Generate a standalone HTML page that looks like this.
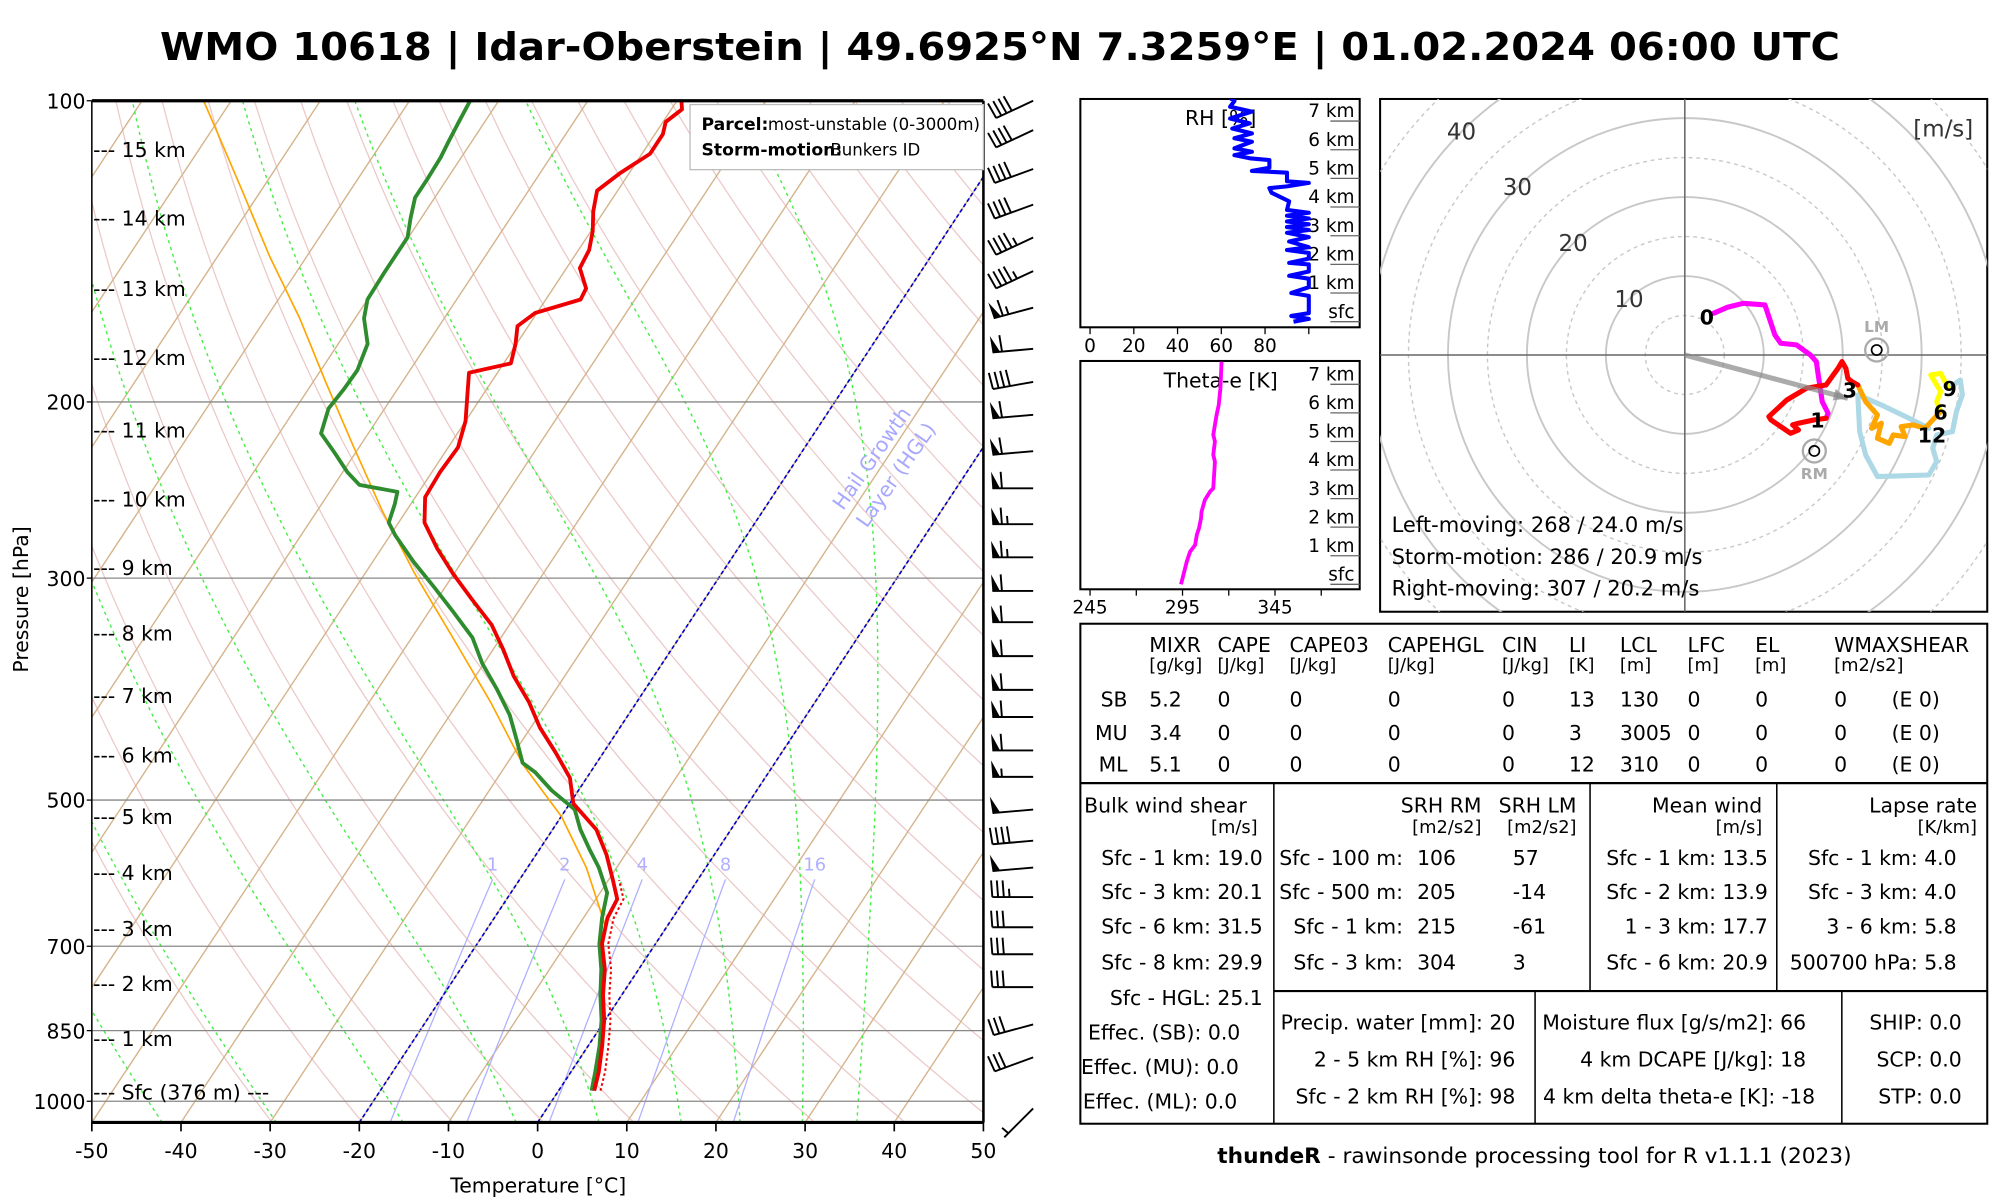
<!DOCTYPE html>
<html><head><meta charset="utf-8"><title>WMO 10618 Idar-Oberstein sounding</title>
<style>
html,body{margin:0;padding:0;background:#fff;}
svg{display:block;font-family:"DejaVu Sans","Liberation Sans",sans-serif;}
</style></head>
<body>
<svg id="root" xmlns="http://www.w3.org/2000/svg" width="2000" height="1200" viewBox="0 0 1568 940.8">
<defs>
<clipPath id="skewClip"><rect x="72" y="79" width="699" height="801"/></clipPath>
<clipPath id="hodoClip"><rect x="1082" y="77.6" width="476" height="402"/></clipPath>
<clipPath id="rhClip"><rect x="847" y="77.6" width="219" height="179"/></clipPath>
<clipPath id="teClip"><rect x="847" y="283" width="219" height="179"/></clipPath>
</defs>
<rect x="0" y="0" width="1568" height="940.8" fill="#fff"/>
<text x="784" y="47" text-anchor="middle" font-size="30" font-weight="bold" textLength="1317" lengthAdjust="spacingAndGlyphs">WMO 10618 | Idar-Oberstein | 49.6925°N 7.3259°E | 01.02.2024 06:00 UTC</text>

<g id="skewBg" clip-path="url(#skewClip)"></g>
<g id="skewData" clip-path="url(#skewClip)"></g>
<g id="skewAxes"></g>
<g id="barbs"></g>

<text x="683" y="365" font-size="16" fill="#a8a8ff" text-anchor="middle" transform="rotate(-55 683 359)">Hail Growth</text>
<text x="702" y="378" font-size="16" fill="#a8a8ff" text-anchor="middle" transform="rotate(-55 702 372)">Layer (HGL)</text>

<g>
<rect x="541" y="82" width="230" height="51" fill="#fff" stroke="#bbb" stroke-width="1"/>
<text x="550" y="102" font-size="13.5" font-weight="bold">Parcel:</text>
<text x="602" y="102" font-size="13">most-unstable (0-3000m)</text>
<text x="550" y="122" font-size="13.5" font-weight="bold">Storm-motion:</text>
<text x="651" y="122" font-size="13">Bunkers ID</text>
</g>

<text x="422" y="935" font-size="16" text-anchor="middle">Temperature [°C]</text>
<text x="22" y="470" font-size="16" text-anchor="middle" transform="rotate(-90 22 470)">Pressure [hPa]</text>

<g font-size="16">
<text x="73" y="123">--- 15 km</text>
<text x="73" y="177">--- 14 km</text>
<text x="73" y="232">--- 13 km</text>
<text x="73" y="286">--- 12 km</text>
<text x="73" y="343">--- 11 km</text>
<text x="73" y="397">--- 10 km</text>
<text x="73" y="451">--- 9 km</text>
<text x="73" y="502">--- 8 km</text>
<text x="73" y="551">--- 7 km</text>
<text x="73" y="598">--- 6 km</text>
<text x="73" y="646">--- 5 km</text>
<text x="73" y="690">--- 4 km</text>
<text x="73" y="734">--- 3 km</text>
<text x="73" y="777">--- 2 km</text>
<text x="73" y="820">--- 1 km</text>
<text x="73" y="862">--- Sfc (376 m) ---</text>
</g>

<g id="rhPanel">
<rect x="847" y="77.6" width="219" height="179" fill="none" stroke="#000" stroke-width="1.6"/>
<text x="957" y="98" font-size="16" text-anchor="middle">RH [%]</text>
</g>
<g id="tePanel">
<rect x="847" y="283" width="219" height="179" fill="none" stroke="#000" stroke-width="1.6"/>
<text x="957" y="304" font-size="16" text-anchor="middle">Theta-e [K]</text>
</g>

<g id="hodo">
<rect x="1082" y="77.6" width="476" height="402" fill="none" stroke="#000" stroke-width="1.6"/>
</g>
<g font-size="16.5">
<text x="1547" y="107" font-size="18" fill="#333" text-anchor="end">[m/s]</text>
<text x="1091" y="417">Left-moving: 268 / 24.0 m/s</text>
<text x="1091" y="442">Storm-motion: 286 / 20.9 m/s</text>
<text x="1091" y="467">Right-moving: 307 / 20.2 m/s</text>
</g>

<g font-size="16">
<rect x="847" y="489" width="711" height="392" fill="none" stroke="#000" stroke-width="1.6"/>
<line x1="847" y1="614" x2="1558" y2="614" stroke="#000" stroke-width="1.8"/>
<line x1="998.7" y1="614" x2="998.7" y2="881" stroke="#000" stroke-width="1.2"/>
<line x1="1246.6" y1="614" x2="1246.6" y2="777" stroke="#000" stroke-width="1.2"/>
<line x1="1393" y1="614" x2="1393" y2="777" stroke="#000" stroke-width="1.2"/>
<line x1="998.7" y1="777" x2="1558" y2="777" stroke="#000" stroke-width="1.6"/>
<line x1="1203.5" y1="777" x2="1203.5" y2="881" stroke="#000" stroke-width="1.2"/>
<line x1="1444" y1="777" x2="1444" y2="881" stroke="#000" stroke-width="1.2"/>

<g>
<text x="901" y="511">MIXR</text><text x="954.5" y="511">CAPE</text><text x="1011" y="511">CAPE03</text><text x="1088" y="511">CAPEHGL</text><text x="1177.6" y="511">CIN</text><text x="1230" y="511">LI</text><text x="1270" y="511">LCL</text><text x="1323" y="511">LFC</text><text x="1376" y="511">EL</text><text x="1438" y="511">WMAXSHEAR</text>
</g>
<g font-size="14">
<text x="901" y="526">[g/kg]</text><text x="954.5" y="526">[J/kg]</text><text x="1011" y="526">[J/kg]</text><text x="1088" y="526">[J/kg]</text><text x="1177.6" y="526">[J/kg]</text><text x="1230" y="526">[K]</text><text x="1270" y="526">[m]</text><text x="1323" y="526">[m]</text><text x="1376" y="526">[m]</text><text x="1438" y="526">[m2/s2]</text>
</g>
<g>
<text x="884" y="554" text-anchor="end">SB</text><text x="901" y="554">5.2</text><text x="954.5" y="554">0</text><text x="1011" y="554">0</text><text x="1088" y="554">0</text><text x="1177.6" y="554">0</text><text x="1230" y="554">13</text><text x="1270" y="554">130</text><text x="1323" y="554">0</text><text x="1376" y="554">0</text><text x="1438" y="554">0</text><text x="1483" y="554">(E 0)</text>
</g>
<g>
<text x="884" y="580" text-anchor="end">MU</text><text x="901" y="580">3.4</text><text x="954.5" y="580">0</text><text x="1011" y="580">0</text><text x="1088" y="580">0</text><text x="1177.6" y="580">0</text><text x="1230" y="580">3</text><text x="1270" y="580">3005</text><text x="1323" y="580">0</text><text x="1376" y="580">0</text><text x="1438" y="580">0</text><text x="1483" y="580">(E 0)</text>
</g>
<g>
<text x="884" y="605" text-anchor="end">ML</text><text x="901" y="605">5.1</text><text x="954.5" y="605">0</text><text x="1011" y="605">0</text><text x="1088" y="605">0</text><text x="1177.6" y="605">0</text><text x="1230" y="605">12</text><text x="1270" y="605">310</text><text x="1323" y="605">0</text><text x="1376" y="605">0</text><text x="1438" y="605">0</text><text x="1483" y="605">(E 0)</text>
</g>

<g>
<text x="850" y="637">Bulk wind shear</text>
<text x="986" y="653" text-anchor="end" font-size="14">[m/s]</text>
<text x="990" y="678" text-anchor="end">Sfc - 1 km: 19.0</text>
<text x="990" y="705" text-anchor="end">Sfc - 3 km: 20.1</text>
<text x="990" y="732" text-anchor="end">Sfc - 6 km: 31.5</text>
<text x="990" y="760" text-anchor="end">Sfc - 8 km: 29.9</text>
<text x="990" y="788" text-anchor="end">Sfc - HGL: 25.1</text>
<text x="853" y="815">Effec. (SB): 0.0</text>
<text x="847.5" y="842">Effec. (MU): 0.0</text>
<text x="849" y="869">Effec. (ML): 0.0</text>
</g>
<g>
<text x="1161.5" y="637" text-anchor="end">SRH RM</text>
<text x="1236" y="637" text-anchor="end">SRH LM</text>
<text x="1161.5" y="653" text-anchor="end" font-size="14">[m2/s2]</text>
<text x="1236" y="653" text-anchor="end" font-size="14">[m2/s2]</text>
<text x="1100" y="678" text-anchor="end">Sfc - 100 m:</text><text x="1111" y="678">106</text><text x="1186" y="678">57</text>
<text x="1100" y="705" text-anchor="end">Sfc - 500 m:</text><text x="1111" y="705">205</text><text x="1186" y="705">-14</text>
<text x="1100" y="732" text-anchor="end">Sfc - 1 km:</text><text x="1111" y="732">215</text><text x="1186" y="732">-61</text>
<text x="1100" y="760" text-anchor="end">Sfc - 3 km:</text><text x="1111" y="760">304</text><text x="1186" y="760">3</text>
</g>
<g>
<text x="1381.6" y="637" text-anchor="end">Mean wind</text>
<text x="1381.6" y="653" text-anchor="end" font-size="14">[m/s]</text>
<text x="1386" y="678" text-anchor="end">Sfc - 1 km: 13.5</text>
<text x="1386" y="705" text-anchor="end">Sfc - 2 km: 13.9</text>
<text x="1386" y="732" text-anchor="end">1 - 3 km: 17.7</text>
<text x="1386" y="760" text-anchor="end">Sfc - 6 km: 20.9</text>
</g>
<g>
<text x="1550" y="637" text-anchor="end">Lapse rate</text>
<text x="1550" y="653" text-anchor="end" font-size="14">[K/km]</text>
<text x="1534" y="678" text-anchor="end">Sfc - 1 km: 4.0</text>
<text x="1534" y="705" text-anchor="end">Sfc - 3 km: 4.0</text>
<text x="1534" y="732" text-anchor="end">3 - 6 km: 5.8</text>
<text x="1534" y="760" text-anchor="end">500700 hPa: 5.8</text>
</g>
<g>
<text x="1188" y="807" text-anchor="end">Precip. water [mm]: 20</text>
<text x="1188" y="836" text-anchor="end">2 - 5 km RH [%]: 96</text>
<text x="1188" y="865" text-anchor="end">Sfc - 2 km RH [%]: 98</text>
<text x="1416" y="807" text-anchor="end">Moisture flux [g/s/m2]: 66</text>
<text x="1416" y="836" text-anchor="end">4 km DCAPE [J/kg]: 18</text>
<text x="1423" y="865" text-anchor="end">4 km delta theta-e [K]: -18</text>
</g>
<g>
<text x="1538" y="807" text-anchor="end">SHIP: 0.0</text>
<text x="1538" y="836" text-anchor="end">SCP: 0.0</text>
<text x="1538" y="865" text-anchor="end">STP: 0.0</text>
</g>
</g>
<text x="1203" y="912" font-size="17" text-anchor="middle"><tspan font-weight="bold">thundeR</tspan> - rawinsonde processing tool for R v1.1.1 (2023)</text>
</svg>

<script>
// ---------------- DATA ----------------
const tempP = [976,934,881,830,783,738,696,656,628,601,567,535,504,475,448,423,399,376,354,334,315,297,280,264,249,235,222,209,197,187,183,175,168,163,158,154,147,141,135,129,123,118,113,108,105,102,100.3];
const tempT = [4.0,3.1,1.6,-0.1,-2.1,-3.8,-6.0,-7.3,-7.6,-9.5,-12.1,-15.1,-19.6,-21.9,-25.4,-29.0,-32.1,-35.7,-38.8,-42.0,-46.1,-50.1,-53.8,-57.1,-58.9,-59.1,-58.9,-60.0,-61.7,-63.2,-59.2,-60.1,-61.2,-60.2,-56.1,-56.3,-58.5,-58.8,-59.8,-61.2,-62.3,-61.0,-59.1,-59.1,-59.7,-58.8,-59.4];
const dewP = [976,934,881,830,783,738,696,656,619,584,559,535,511,489,469,459,435,411,387,365,344,324,306,289,272,264,253,246,242,235,225,215,203,194,186,175,165,158,149,143,137,131,125,120,114,110,105,100];
const dewT = [3.7,2.7,1.3,-0.4,-2.4,-4.2,-6.3,-7.9,-9.2,-12.0,-14.5,-16.9,-19.0,-23.0,-26.2,-28.3,-30.7,-33.3,-36.7,-40.2,-43.2,-47.3,-51.3,-55.4,-59.4,-61.1,-61.8,-62.4,-67.2,-69.5,-72.3,-75.3,-76.3,-76.0,-75.9,-76.7,-79.0,-80.0,-80.1,-80.1,-80.1,-81.2,-82.2,-82.2,-82.3,-82.6,-82.9,-83.2];
const parcelP = [670,584,519,461,399,344,297,257,222,191,165,143,123,106,100];
const parcelT = [-6.8,-13.4,-20.0,-28.1,-36.4,-45.4,-54.4,-62.7,-70.6,-78.6,-86.2,-94.2,-102.1,-110.0,-113.1];
const virtOffset = 0.7;
const pressureTicks = [100,200,300,500,700,850,1000];
const tempTicks = [-50,-40,-30,-20,-10,0,10,20,30,40,50];
const mixRatios = [1,2,4,8,16];
const hglIsotherms = [-20,0];

const barbP = [100,107,117,127,137,148,161,177,191,206,224,244,265,286,309,332,359,388,413,446,474,511,549,584,625,670,713,769,838,904,1017];
const barbDir = [245,245,250,250,245,245,255,265,260,265,265,270,270,270,270,270,270,270,270,270,270,265,265,265,270,270,270,270,255,250,225];
const barbSpd = [40,40,40,40,45,45,65,60,40,60,60,60,65,65,60,60,60,60,60,60,55,50,40,50,35,30,30,30,30,30,5];

const rhH = [0,0.1,0.2,0.3,0.9,1.0,1.2,1.5,1.6,1.75,2.0,2.05,2.2,2.4,2.5,2.6,2.8,2.95,3.1,3.2,3.3,3.4,3.5,3.6,3.7,3.8,3.9,4.2,4.5,4.66,4.72,4.84,4.9,5.2,5.26,5.37,5.64,5.7,5.81,5.93,6.05,6.28,6.4,6.57,6.74,6.92,7.09,7.33,7.5,7.7,7.8];
const rhV = [93,100,92,100,100,92,100,100,91,100,100,91,100,100,90,100,91,100,90,100,90,100,90,100,90,100,90,91,83,82,90,100,90,90,74,82,82,73,66,74,66,74,66,74,65,73,64,74,64,66,64];
const rhTicks = [0,20,40,60,80,100];
const teH = [0,0.33,0.79,1.14,1.38,1.73,1.96,2.31,2.54,2.95,3.24,3.36,4.29,4.53,5.0,5.23,5.58,5.93,6.28,6.86,7.79];
const teV = [294.2,295.5,297.3,299.1,301.8,302.7,303.9,305,305.3,307.1,309.8,311.6,312.5,311.6,312.5,311.6,312.5,313.4,314.6,315.5,316.1];
const teTicks = [245,270,295,320,345,370];
const panelKm = ["sfc","1 km","2 km","3 km","4 km","5 km","6 km","7 km"];

const h01U = [3.65,5.4,7.4,10.15,11.4,12.15,14.15,15.9,16.65,16.9,17.15,17.4,18.15,17.9];
const h01V = [5.28,6.04,6.54,6.33,2.53,1.48,1.27,0,-0.84,-2.53,-4.22,-5.91,-7.39,-8.02];
const h13U = [17.9,16.4,14.4,13.65,14.4,13.4,10.9,10.65,12.9,15.4,17.9,18.65,19.4,19.9,20.4,20.65,21.15,21.9];
const h13V = [-8.02,-8.23,-8.65,-8.86,-9.5,-9.92,-8.23,-7.81,-5.7,-4.22,-3.8,-2.74,-1.69,-0.84,-1.69,-2.95,-3.38,-3.8];
const h36U = [21.9,22.9,24.4,23.65,24.9,24.4,25.9,26.4,27.9,27.4,28.9,30.4,31.4,32.4];
const h36V = [-3.8,-5.91,-7.6,-9.29,-8.65,-10.55,-11.19,-10.13,-10.34,-9.08,-8.86,-9.29,-8.23,-7.18];
const h69U = [32.4,31.9,32.4,31.15,32.4,33.4];
const h69V = [-7.18,-5.91,-4.64,-2.53,-2.32,-4.22];
const h912U = [33.4,34.9,35.15,34.4,33.9,31.9,31.4,31.9,30.9,24.4,22.9,22.15,21.9,24.9,28.4,30.9];
const h912V = [-4.22,-3.17,-5.06,-7.18,-9.71,-10.13,-11.82,-13.5,-15.2,-15.4,-12.66,-9.71,-5.06,-6.33,-8.02,-9.29];
const hodoLabelText = ["0","1","3","6","9","12"];
const hodoLabelU = [2.8,16.8,20.9,32.4,33.55,31.3];
const hodoLabelV = [4.85,-8.2,-4.43,-7.18,-4.22,-10.13];
const stormU = 20.65, stormV = -5.49;
const lmU = 24.3, lmV = 0.63, rmU = 16.4, rmV = -12.16;
const hodoRings = [5,10,15,20,25,30,35,40,45];
const hodoRingLabels = [10,20,30,40];

// ---------------- SCALES ----------------
const NS = "http://www.w3.org/2000/svg";
function mk(tag, parent){ const el = document.createElementNS(NS, tag); parent.appendChild(el); return el; }
function Y(p){ return 79 + Math.log(p/100)/Math.log(10.5)*801; }
function X(T,p){ return 72 + (T+50)*6.99 + (880 - Y(p))*0.66; }
function XG(T,p){ return X(T,p); }
function ptsStr(a){ return a.map(q=>q[0].toFixed(1)+","+q[1].toFixed(1)).join(" "); }

const bg = document.getElementById("skewBg");
const dat = document.getElementById("skewData");
const ax = document.getElementById("skewAxes");

for (let th = 240; th <= 520; th += 10) {
  const pts = [];
  for (let p = 1050; p >= 100; p -= 10) pts.push([XG(th*Math.pow(p/1000,0.2857)-273.15, p), Y(p)]);
  const el = mk("polyline", bg);
  
  
  el.setAttribute("points", ptsStr(pts)); el.setAttribute("fill","none");
  el.setAttribute("stroke","#ebc9c9"); el.setAttribute("stroke-width","1");
}
for (let T = -180; T <= 50; T += 10) {
  const el = mk("line", bg);
  
  
  el.setAttribute("x1", X(T,1050)); el.setAttribute("y1", Y(1050));
  el.setAttribute("x2", X(T,100)); el.setAttribute("y2", Y(100));
  el.setAttribute("stroke","#d4b48c"); el.setAttribute("stroke-width","1.1");
}
const moistStarts = [-42.1,-29.3,-15.1,-2.4,6.9,16.1,22.7,29.7,35.8];
moistStarts.forEach(T0 => {
  let T = T0 + 273.15, p = 1050; const pts = [[XG(T0,p),Y(p)]];
  while (p > 100) {
    const Tc = T - 273.15;
    const es = 6.112*Math.exp(17.67*Tc/(Tc+243.5));
    const rs = 0.622*es/Math.max(p-es,1);
    const d = (287*T + 2.5e6*rs)/(1005 + 2.5e6*2.5e6*rs*0.622/(287*T*T));
    T += d*(-5/p); p -= 5;
    pts.push([XG(T-273.15,p), Y(p)]);
  }
  const el = mk("polyline", bg);
  
  
  el.setAttribute("points", ptsStr(pts)); el.setAttribute("fill","none");
  el.setAttribute("stroke","#44ee44"); el.setAttribute("stroke-width","1.1"); el.setAttribute("stroke-dasharray","2.5,3");
});
mixRatios.forEach(w => {
  const pts = [];
  for (let p = 1050; p >= 600; p -= 10) {
    const e = w*p/(622+w), l = Math.log(e/6.112);
    pts.push([XG(243.5*l/(17.67-l), p), Y(p)]);
  }
  const el = mk("polyline", bg);
  
  
  el.setAttribute("points", ptsStr(pts)); el.setAttribute("fill","none");
  el.setAttribute("stroke","#b0b0ff"); el.setAttribute("stroke-width","1");
  const last = pts[pts.length-1];
  const t = mk("text", bg);
  
  
  t.setAttribute("x", last[0]); t.setAttribute("y", last[1]-7);
  t.setAttribute("text-anchor","middle"); t.setAttribute("font-size","14"); t.setAttribute("fill","#b0b0ff");
  t.textContent = String(w);
});
hglIsotherms.forEach(T => {
  const el = mk("line", bg);
  
  
  el.setAttribute("x1", X(T,1050)); el.setAttribute("y1", Y(1050));
  el.setAttribute("x2", X(T,100)); el.setAttribute("y2", Y(100));
  el.setAttribute("stroke","#0000cc"); el.setAttribute("stroke-width","1.3"); el.setAttribute("stroke-dasharray","3,2");
});
pressureTicks.forEach(p => {
  const el = mk("line", bg);
  
  
  el.setAttribute("x1",72); el.setAttribute("x2",771); el.setAttribute("y1",Y(p)); el.setAttribute("y2",Y(p));
  el.setAttribute("stroke","#888"); el.setAttribute("stroke-width","1");
});

function profile(P, T, color, width, name, dash, off){
  const pts = P.map((p,i)=>[X(T[i]+(off||0),p), Y(p)]);
  const el = mk("polyline", dat);
  
  
  el.setAttribute("points", ptsStr(pts)); el.setAttribute("fill","none");
  el.setAttribute("stroke", color); el.setAttribute("stroke-width", width);
  el.setAttribute("stroke-linejoin","round");
  if (dash) el.setAttribute("stroke-dasharray", dash);
}
profile(parcelP, parcelT, "#ffa500", 1.3, "parcel-path");
const vP = tempP.filter(p=>p>=600), vT = tempT.slice(0, vP.length);
profile(vP, vT, "#ee0000", 1.6, "virtual-temperature-line", "2,2", virtOffset);
profile(dewP, dewT, "#2e8b2e", 3, "dewpoint-line");
profile(tempP, tempT, "#ee0000", 3, "temperature-line");

[[72,79,771,79,2.5,'plot-top-border'],[72,880,771,880,2.5,'x-axis-line'],[72,79,72,880,1.2,'y-axis-line'],[771,79,771,880,2,'plot-right-border']].forEach(a=>{
  const el = mk("line", ax);
  
  
  el.setAttribute("x1",a[0]); el.setAttribute("y1",a[1]); el.setAttribute("x2",a[2]); el.setAttribute("y2",a[3]);
  el.setAttribute("stroke","#000"); el.setAttribute("stroke-width",a[4]);
});
pressureTicks.forEach(p => {
  const t = mk("text", ax);
  
  
  t.setAttribute("x",67); t.setAttribute("y",Y(p)+6); t.setAttribute("text-anchor","end"); t.setAttribute("font-size","16");
  t.textContent = String(p);
  const k = mk("line", ax);
  
  
  k.setAttribute("x1",68); k.setAttribute("x2",72); k.setAttribute("y1",Y(p)); k.setAttribute("y2",Y(p)); k.setAttribute("stroke","#000");
});
tempTicks.forEach(T => {
  const x = 72 + (T+50)*6.99;
  const k = mk("line", ax);
  
  
  k.setAttribute("x1",x); k.setAttribute("x2",x); k.setAttribute("y1",880); k.setAttribute("y2",887); k.setAttribute("stroke","#000"); k.setAttribute("stroke-width","1.3");
  const t = mk("text", ax);
  
  
  t.setAttribute("x",x); t.setAttribute("y",908); t.setAttribute("text-anchor","middle"); t.setAttribute("font-size","16");
  t.textContent = String(T);
});

const bg2 = document.getElementById("barbs");
barbP.forEach((p,i) => {
  const y = (p > 1000) ? 869 : Y(p);
  const sx = 810, L = 32;
  const d = barbDir[i]*Math.PI/180;
  const vx = Math.sin(d), vy = -Math.cos(d);
  const px = -vy, py = vx;
  const tx = sx + vx*L, ty = y + vy*L;
  const g = mk("g", bg2);
  
  
  const st = mk("line", g);
  
  
  st.setAttribute("x1",sx); st.setAttribute("y1",y); st.setAttribute("x2",tx); st.setAttribute("y2",ty);
  st.setAttribute("stroke","#000"); st.setAttribute("stroke-width","1.5");
  let s = barbSpd[i], pos = 0;
  while (s >= 50) {
    const a = [tx - vx*pos, ty - vy*pos];
    const b = [a[0] + px*13 + vx*1, a[1] + py*13 + vy*1];
    const c = [tx - vx*(pos+6), ty - vy*(pos+6)];
    const pn = mk("polygon", g);
    
    
    pn.setAttribute("points", ptsStr([a,b,c])); pn.setAttribute("fill","#000");
    pos += 7.5; s -= 50;
  }
  while (s >= 10) {
    const a = [tx - vx*pos, ty - vy*pos];
    const f = mk("line", g);
    
    
    f.setAttribute("x1",a[0]); f.setAttribute("y1",a[1]);
    f.setAttribute("x2",a[0]+px*13+vx*1); f.setAttribute("y2",a[1]+py*13+vy*1);
    f.setAttribute("stroke","#000"); f.setAttribute("stroke-width","1.5");
    pos += 4.5; s -= 10;
  }
  if (s >= 5) {
    if (pos === 0) pos = 4.5;
    const a = [tx - vx*pos, ty - vy*pos];
    const f = mk("line", g);
    
    
    f.setAttribute("x1",a[0]); f.setAttribute("y1",a[1]);
    f.setAttribute("x2",a[0]+px*6.5+vx*0.5); f.setAttribute("y2",a[1]+py*6.5+vy*0.5);
    f.setAttribute("stroke","#000"); f.setAttribute("stroke-width","1.5");
  }
});

const rhG = document.getElementById("rhPanel");
const rhX = v => 854.6 + v*1.715;
const rhY = h => 252.2 - h*22.47;
function panelHeights(g, yFn, name){
  panelKm.forEach((lab,k) => {
    const y = yFn(k);
    const ln = mk("line", g);
    
    
    ln.setAttribute("x1",1043); ln.setAttribute("x2",1066); ln.setAttribute("y1",y); ln.setAttribute("y2",y);
    ln.setAttribute("stroke","#666"); ln.setAttribute("stroke-width","1");
    const t = mk("text", g);
    
    
    t.setAttribute("x",1062); t.setAttribute("y",y-3); t.setAttribute("text-anchor","end"); t.setAttribute("font-size","14.5");
    t.textContent = lab;
  });
}
panelHeights(rhG, rhY, "rh");
rhTicks.forEach(v => {
  const k = mk("line", rhG);
  
  
  k.setAttribute("x1",rhX(v)); k.setAttribute("x2",rhX(v)); k.setAttribute("y1",256.6); k.setAttribute("y2",262); k.setAttribute("stroke","#000");
  if (v < 100) {
    const t = mk("text", rhG);
    
    
    t.setAttribute("x",rhX(v)); t.setAttribute("y",276); t.setAttribute("text-anchor","middle"); t.setAttribute("font-size","14.5");
    t.textContent = String(v);
  }
});
{
  const el = mk("polyline", rhG);
  
  
  el.setAttribute("clip-path","url(#rhClip)");
  el.setAttribute("points", ptsStr(rhH.map((h,i)=>[rhX(rhV[i]), rhY(h)])));
  el.setAttribute("fill","none"); el.setAttribute("stroke","#0000ff"); el.setAttribute("stroke-width","3.2"); el.setAttribute("stroke-linejoin","round");
}
const teG = document.getElementById("tePanel");
const teX = v => 854.6 + (v-245)*1.45;
const teY = h => 458.1 - h*22.4;
panelHeights(teG, teY, "theta-e");
teTicks.forEach(v => {
  const k = mk("line", teG);
  
  
  k.setAttribute("x1",teX(v)); k.setAttribute("x2",teX(v)); k.setAttribute("y1",462); k.setAttribute("y2",467); k.setAttribute("stroke","#000");
  if ((v-245) % 50 === 0) {
    const t = mk("text", teG);
    
    
    t.setAttribute("x",teX(v)); t.setAttribute("y",481); t.setAttribute("text-anchor","middle"); t.setAttribute("font-size","14.5");
    t.textContent = String(v);
  }
});
{
  const el = mk("polyline", teG);
  
  
  el.setAttribute("clip-path","url(#teClip)");
  el.setAttribute("points", ptsStr(teH.map((h,i)=>[teX(teV[i]), teY(h)])));
  el.setAttribute("fill","none"); el.setAttribute("stroke","#ff00ff"); el.setAttribute("stroke-width","3"); el.setAttribute("stroke-linejoin","round");
}

const hG = document.getElementById("hodo");
const hc = mk("g", hG);


hc.setAttribute("clip-path","url(#hodoClip)");
const CX = 1320.9, CY = 278.3, S = 6.19;
const hx = u => CX + u*S, hy = v => CY - v*S;
hodoRings.forEach(r => {
  const c = mk("circle", hc);
  
  
  c.setAttribute("cx",CX); c.setAttribute("cy",CY); c.setAttribute("r", r*S); c.setAttribute("fill","none");
  c.setAttribute("stroke","#c8c8c8"); c.setAttribute("stroke-width", r%10===0 ? "1.5" : "1.1");
  if (r%10 !== 0) c.setAttribute("stroke-dasharray","3,3");
});
[[1082,CY,1558,CY],[CX,77.6,CX,479.6]].forEach(a=>{
  const l = mk("line", hc);
  
  
  l.setAttribute("x1",a[0]); l.setAttribute("y1",a[1]); l.setAttribute("x2",a[2]); l.setAttribute("y2",a[3]);
  l.setAttribute("stroke","#666"); l.setAttribute("stroke-width","1.2");
});
hodoRingLabels.forEach(r => {
  const t = mk("text", hc);
  
  
  t.setAttribute("x", CX - r*S*0.7071); t.setAttribute("y", CY - r*S*0.7071 + 6);
  t.setAttribute("text-anchor","middle"); t.setAttribute("font-size","18"); t.setAttribute("fill","#333");
  t.textContent = String(r);
});
function hodoLine(U, V, color, name){
  const el = mk("polyline", hc);
  
  
  el.setAttribute("points", ptsStr(U.map((u,i)=>[hx(u), hy(V[i])])));
  el.setAttribute("fill","none"); el.setAttribute("stroke",color); el.setAttribute("stroke-width","4");
  el.setAttribute("stroke-linejoin","round"); el.setAttribute("stroke-linecap","round");
}
hodoLine(h912U, h912V, "#add8e6", "hodograph-9-12km");
hodoLine(h69U, h69V, "#ffff00", "hodograph-6-9km");
hodoLine(h36U, h36V, "#ffa500", "hodograph-3-6km");
hodoLine(h01U, h01V, "#ff00ff", "hodograph-0-1km");
hodoLine(h13U, h13V, "#ff0000", "hodograph-1-3km");
{
  const a = mk("line", hc);
  
  
  a.setAttribute("x1",CX); a.setAttribute("y1",CY); a.setAttribute("x2",hx(stormU)); a.setAttribute("y2",hy(stormV));
  a.setAttribute("stroke","#888"); a.setAttribute("stroke-opacity","0.7"); a.setAttribute("stroke-width","4");
  const ang = Math.atan2(hy(stormV)-CY, hx(stormU)-CX);
  const tip = [hx(stormU), hy(stormV)];
  const h1 = [tip[0]-12*Math.cos(ang-0.4), tip[1]-12*Math.sin(ang-0.4)];
  const h2 = [tip[0]-12*Math.cos(ang+0.4), tip[1]-12*Math.sin(ang+0.4)];
  const hd = mk("polygon", hc);
  
  
  hd.setAttribute("points", ptsStr([tip,h1,h2])); hd.setAttribute("fill","#888"); hd.setAttribute("fill-opacity","0.7");
}
[[lmU,lmV,"LM",-14],[rmU,rmV,"RM",22]].forEach(m=>{
  const c = mk("circle", hc);
  
  
  c.setAttribute("cx",hx(m[0])); c.setAttribute("cy",hy(m[1])); c.setAttribute("r",9);
  c.setAttribute("fill","none"); c.setAttribute("stroke","#aaa"); c.setAttribute("stroke-width","1.8");
  const o = mk("circle", hc);
  
  
  o.setAttribute("cx",hx(m[0])); o.setAttribute("cy",hy(m[1])); o.setAttribute("r",4);
  o.setAttribute("fill","none"); o.setAttribute("stroke","#000"); o.setAttribute("stroke-width","1.3");
  const t = mk("text", hc);
  
  
  t.setAttribute("x",hx(m[0])); t.setAttribute("y",hy(m[1])+m[3]); t.setAttribute("text-anchor","middle");
  t.setAttribute("font-size","12"); t.setAttribute("font-weight","bold"); t.setAttribute("fill","#aaa");
  t.textContent = m[2];
});
hodoLabelText.forEach((s,i)=>{
  const t = mk("text", hc);
  
  
  t.setAttribute("x",hx(hodoLabelU[i])); t.setAttribute("y",hy(hodoLabelV[i])+6);
  t.setAttribute("text-anchor","middle"); t.setAttribute("font-size","16"); t.setAttribute("font-weight","bold");
  t.textContent = s;
});
</script>
</body></html>
